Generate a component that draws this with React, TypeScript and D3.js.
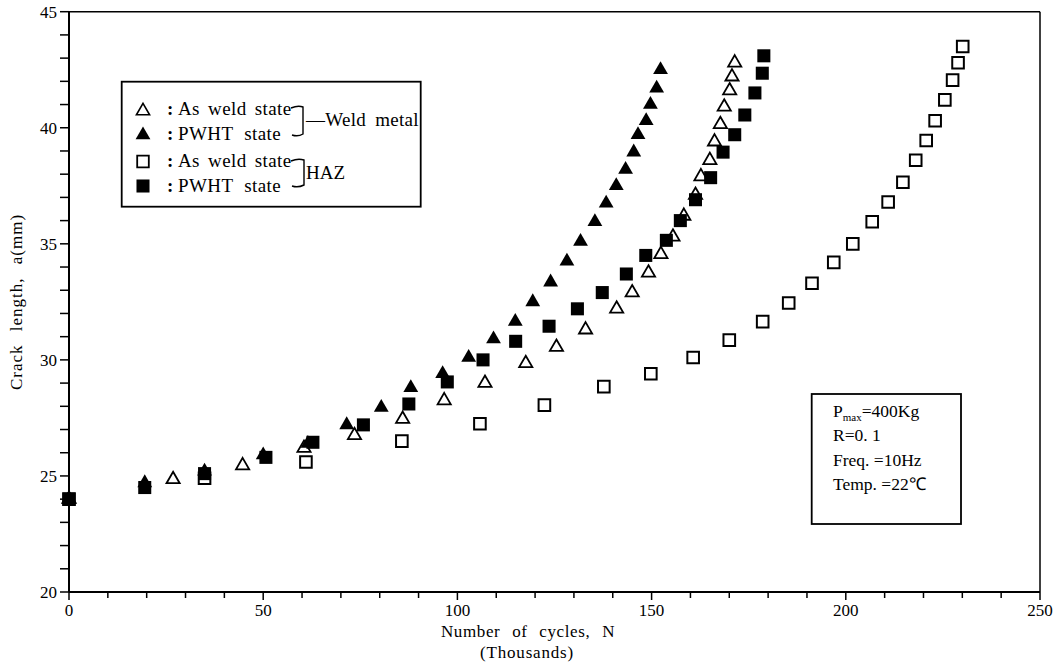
import React from 'react';
import * as d3 from 'd3';

// Weld metal, as weld (open triangles)
const wmAsWeldN = [0, 26.8, 44.7, 60.5, 73.5, 85.9, 96.6, 107.1, 117.6, 125.5, 133.0, 141.0, 145.0, 149.2, 152.4, 155.5, 158.3, 161.3, 162.7, 165.0, 166.2, 167.7, 168.7, 170.1, 170.7, 171.4];
const wmAsWeldA = [24.0, 24.85, 25.45, 26.2, 26.75, 27.45, 28.25, 29.0, 29.85, 30.55, 31.3, 32.2, 32.9, 33.75, 34.55, 35.3, 36.2, 37.1, 37.9, 38.6, 39.4, 40.15, 40.9, 41.6, 42.2, 42.8];

// Weld metal, PWHT (filled triangles)
const wmPwhtN = [0, 19.5, 34.9, 50.0, 61.5, 71.5, 80.4, 88.0, 96.2, 102.9, 109.3, 114.9, 119.4, 124.0, 128.2, 131.7, 135.4, 138.3, 140.9, 143.3, 145.4, 146.5, 148.6, 149.7, 151.3, 152.3];
const wmPwhtA = [24.0, 24.7, 25.2, 25.9, 26.4, 27.2, 27.95, 28.8, 29.4, 30.1, 30.9, 31.65, 32.5, 33.35, 34.25, 35.1, 35.95, 36.75, 37.5, 38.2, 38.95, 39.7, 40.3, 41.0, 41.7, 42.5];

// HAZ, as weld (open squares)
const hazAsWeldN = [0, 34.9, 61.0, 85.7, 105.8, 122.4, 137.7, 149.8, 160.7, 170.0, 178.6, 185.3, 191.3, 196.9, 201.8, 206.8, 210.9, 214.7, 218.0, 220.7, 223.0, 225.5, 227.5, 228.9, 230.1];
const hazAsWeldA = [24.0, 24.9, 25.6, 26.5, 27.25, 28.05, 28.85, 29.4, 30.1, 30.85, 31.65, 32.45, 33.3, 34.2, 35.0, 35.95, 36.8, 37.65, 38.6, 39.45, 40.3, 41.2, 42.05, 42.8, 43.5];

// HAZ, PWHT (filled squares)
const hazPwhtN = [0, 19.5, 34.9, 50.7, 62.8, 75.8, 87.5, 97.4, 106.6, 115.0, 123.6, 130.9, 137.3, 143.5, 148.5, 153.8, 157.4, 161.3, 165.2, 168.4, 171.4, 174.0, 176.6, 178.5, 178.9];
const hazPwhtA = [24.0, 24.5, 25.1, 25.8, 26.45, 27.2, 28.1, 29.05, 30.0, 30.8, 31.45, 32.2, 32.9, 33.7, 34.5, 35.15, 36.0, 36.9, 37.85, 38.95, 39.7, 40.55, 41.5, 42.35, 43.1];

const xTicks = [0, 50, 100, 150, 200, 250];
const yTicks = [20, 25, 30, 35, 40, 45];

const conditions = ['Freq. \u003D10Hz', 'Temp. \u003D22\u2103'];

const FONT = 'Liberation Serif';

const W = 1064;
const H = 667;

const x = d3.scaleLinear().domain([0, 250]).range([69, 1040]);
const y = d3.scaleLinear().domain([20, 45]).range([592, 11.7]);

const triFilled = d3.symbol(d3.symbolTriangle, 95)();
const triOpen = d3.symbol(d3.symbolTriangle, 75)();
const sqFilled = d3.symbol(d3.symbolSquare, 170)();
const sqOpen = d3.symbol(d3.symbolSquare, 135)();

const zip = (n: number[], a: number[]) => n.map((v, i) => [v, a[i]]);

const series = [
  { pts: zip(hazAsWeldN, hazAsWeldA), d: sqOpen, fill: 'white', stroke: '#000', sw: 2 },
  { pts: zip(wmAsWeldN, wmAsWeldA), d: triOpen, fill: 'white', stroke: '#000', sw: 1.8 },
  { pts: zip(wmPwhtN, wmPwhtA), d: triFilled, fill: '#000', stroke: 'none', sw: 0 },
  { pts: zip(hazPwhtN, hazPwhtA), d: sqFilled, fill: '#000', stroke: 'none', sw: 0 },
];

export default function App() {
  const x0 = x.range()[0];
  const x1 = x.range()[1];
  const y0 = y.range()[0];
  const y1 = y.range()[1];

  return (
    <svg width={W} height={H} style={{ position: 'absolute', left: 0, top: 0, background: '#fff' }}>
      <rect x={0} y={0} width={W} height={H} fill="#fff" />

      {/* frame */}
      <g stroke="#000" fill="none">
        <line x1={x0} y1={y0} x2={x0} y2={y1} strokeWidth={2} />
        <line x1={x0} y1={y0} x2={x1} y2={y0} strokeWidth={2} />
        <line x1={x0} y1={y1} x2={x1} y2={y1} strokeWidth={1.5} />
        <line x1={x1} y1={y0} x2={x1} y2={y1} strokeWidth={1.5} />
      </g>

      <g fontFamily={FONT}>
        {/* y ticks */}
        {d3.range(20, 46, 1).map((v) => (
          <line key={'ym' + v} x1={x0 - 9} x2={x0} y1={y(v)} y2={y(v)} stroke="#000" strokeWidth={1.5} />
        ))}
        {yTicks.map((v) => (
          <text key={'yl' + v} x={57} y={y(v)} dy="0.35em" textAnchor="end" fontSize={17} fontFamily={FONT}>
            {v}
          </text>
        ))}

        {/* x ticks */}
        {d3.range(0, 251, 10).map((v) => (
          <line key={'xm' + v} x1={x(v)} x2={x(v)} y1={y0} y2={y0 + (v % 50 === 0 ? 8 : 6)} stroke="#000" strokeWidth={1.5} />
        ))}
        {xTicks.map((v) => (
          <text key={'xl' + v} x={x(v)} y={616} textAnchor="middle" fontSize={17} fontFamily={FONT}>
            {v}
          </text>
        ))}

        {/* axis titles */}
        <text x={528} y={637} textAnchor="middle" fontSize={17} fontFamily={FONT} letterSpacing={0.6} style={{ wordSpacing: '7px' }}>
          Number of cycles, N
        </text>
        <text x={527} y={658} textAnchor="middle" fontSize={17} fontFamily={FONT} letterSpacing={0.8}>
          (Thousands)
        </text>
        <text
          transform="translate(22,302) rotate(-90)"
          textAnchor="middle"
          fontSize={17}
          fontFamily={FONT}
          letterSpacing={1}
          style={{ wordSpacing: '8px' }}
        >
          Crack length, a(mm)
        </text>
      </g>

      {/* data */}
      {series.map((s, si) => (
        <g key={si}>
          {s.pts.map(([n, a], i) => (
            <path
              key={i}
              d={s.d as string}
              transform={`translate(${x(n)},${y(a)})`}
              fill={s.fill}
              stroke={s.stroke}
              strokeWidth={s.sw}
            />
          ))}
        </g>
      ))}

      {/* legend */}
      <g fontFamily={FONT}>
        <rect x={121.7} y={81.7} width={299} height={125} fill="#fff" stroke="#000" strokeWidth={1.8} />
        <path d={triOpen as string} transform="translate(143,111)" fill="#fff" stroke="#000" strokeWidth={1.6} />
        <path d={triFilled as string} transform="translate(143,135)" fill="#000" />
        <path d={sqOpen as string} transform="translate(143,161.5)" fill="#fff" stroke="#000" strokeWidth={1.8} />
        <path d={sqFilled as string} transform="translate(143,186)" fill="#000" />
        {[115, 140, 167, 192].map((by, i) => (
          <text key={'c' + i} x={167} y={by} fontSize={19} fontWeight="bold" fontFamily={FONT}>
            :
          </text>
        ))}
        <text x={178} y={115} fontSize={19} fontFamily={FONT} letterSpacing={0.4} style={{ wordSpacing: '3px' }}>As weld state</text>
        <text x={178} y={140} fontSize={19} fontFamily={FONT} letterSpacing={0.4} style={{ wordSpacing: '6px' }}>PWHT state</text>
        <text x={178} y={167} fontSize={19} fontFamily={FONT} letterSpacing={0.4} style={{ wordSpacing: '3px' }}>As weld state</text>
        <text x={178} y={192} fontSize={19} fontFamily={FONT} letterSpacing={0.4} style={{ wordSpacing: '6px' }}>PWHT state</text>
        <path d="M291,108 Q298,105 303,107 L303,134 Q298,137 292,135" fill="none" stroke="#000" strokeWidth={1.4} />
        <path d="M291,161 Q298,158 304,160 L304,185 Q298,188 292,186" fill="none" stroke="#000" strokeWidth={1.4} />
        <text x={306} y={126} fontSize={19} fontFamily={FONT} letterSpacing={0.3} style={{ wordSpacing: '4px' }}>{'\u2014Weld metal'}</text>
        <text x={306} y={179} fontSize={19} fontFamily={FONT}>HAZ</text>
      </g>

      {/* test conditions */}
      <g fontFamily={FONT}>
        <rect x={811.7} y={394} width={149.3} height={130} fill="#fff" stroke="#000" strokeWidth={1.8} />
        <text x={833} y={417} fontSize={17.5} fontFamily={FONT}>
          P<tspan fontSize={11} dy={4}>max</tspan>
          <tspan dy={-4}>=400Kg</tspan>
        </text>
        <text x={833} y={441} fontSize={17.5} fontFamily={FONT}>R=0. 1</text>
        {conditions.map((c, i) => (
          <text key={c} x={833} y={466 + i * 24} fontSize={17.5} fontFamily={FONT}>
            {c}
          </text>
        ))}
      </g>
    </svg>
  );
}
